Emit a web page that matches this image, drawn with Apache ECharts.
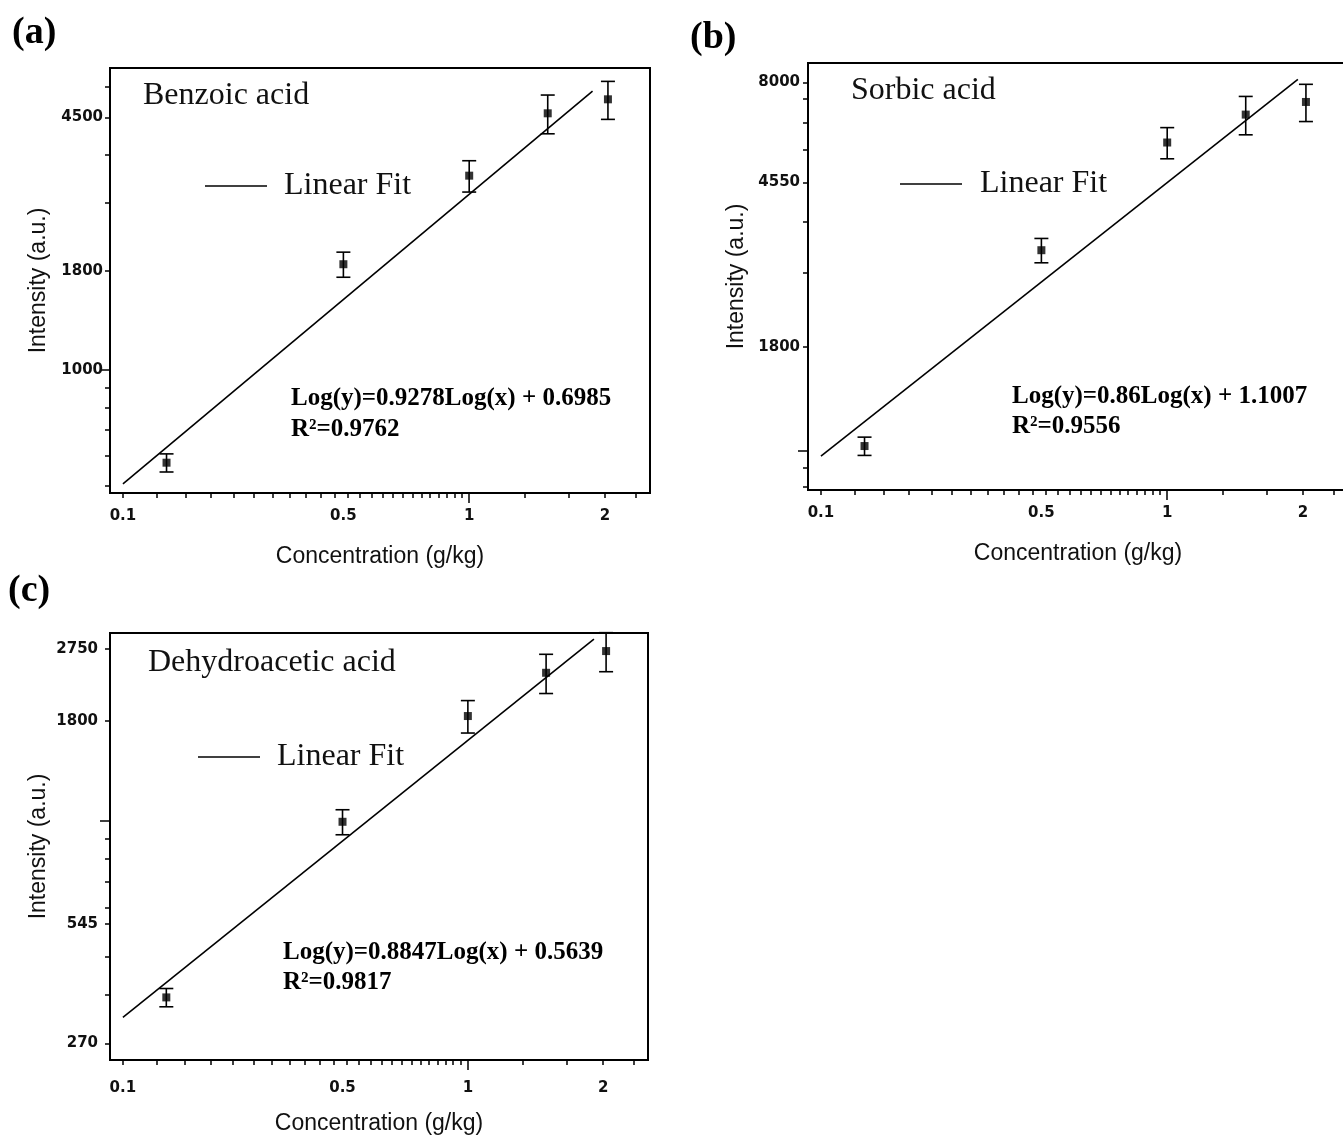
<!DOCTYPE html>
<html>
<head>
<meta charset="utf-8">
<title>Calibration curves</title>
<script src="https://cdn.jsdelivr.net/npm/echarts@6/dist/echarts.min.js"></script>
<style>
  html, body { margin: 0; padding: 0; background: #fff; }
  #chart { width: 1343px; height: 1135px; }
</style>
</head>
<body>
<div id="chart"></div>
<script>
// concentration (g/kg), same for the three acids
var CONC = [0.15, 0.5, 1, 1.5, 2.03];

// mean intensity (a.u.) and error bar half height
var BENZOIC = [575, 1876, 3180, 4611, 5012];
var BENZOIC_ERR = [31, 140, 296, 530, 565];
var SORBIC = [1029, 3106, 5702, 6675, 7168];
var SORBIC_ERR = [53, 213, 500, 720, 750];
var DHA = [354, 994, 1851, 2387, 2712];
var DHA_ERR = [19, 73, 176, 274, 310];

// end points of the fitted lines
var FIT_X_A = [0.1, 1.88], FIT_Y_A = [507, 5265];
var FIT_X_B = [0.1, 1.95], FIT_Y_B = [972, 8147];
var FIT_X_C = [0.1, 1.91], FIT_Y_C = [315, 2910];

// tick labels / tick marks
var X_LABELS = [0.1, 0.5, 1, 2];
var X_TICKS = [0.1, 0.1375, 0.175, 0.2125, 0.25, 0.2875, 0.325, 0.3625, 0.4, 0.4375,
  0.475, 0.5125, 0.55, 0.5875, 0.625, 0.6625, 0.7, 0.7375, 0.775, 0.8125, 0.85,
  0.8875, 0.925, 0.9625, 1, 1.333, 1.667, 2, 2.333];
var Y_LABELS_A = [1000, 1800, 4500];
var Y_TICKS_A = [500, 600, 700, 800, 900, 1000, 1800, 2700, 3600, 4500, 5400];
var Y_LABELS_B = [1800, 4550, 8000];
var Y_TICKS_B = [820, 910, 1000, 1800, 2730, 3640, 4550, 5460, 6370, 7280, 8000];
var Y_LABELS_C = [270, 545, 1800, 2750];
var Y_TICKS_C = [270, 360, 450, 545, 600, 700, 800, 900, 1000, 1800, 2750];

// the original x axis is log-like but squeezed below 0.5,
// a log axis on (x + X_SHIFT) reproduces that spacing
var X_SHIFT = 0.12;
var X_MIN = 0.087, X_MAX = 2.5;

var panels = [
  { tag: '(a)', title: 'Benzoic acid', y: BENZOIC, err: BENZOIC_ERR, fx: FIT_X_A, fy: FIT_Y_A,
    eq: 'Log(y)=0.9278Log(x) + 0.6985', r2: 'R\u00b2=0.9762',
    yLabels: Y_LABELS_A, yTicks: Y_TICKS_A, yMin: 480, yMax: 6040,
    grid: [110, 68, 540, 425], xMargin: 16, yMargin: 7,
    pos: { tag: [12, 33], title: [143, 96], legend: [205, 267, 186, 284], eq: [291, 399, 430] } },
  { tag: '(b)', title: 'Sorbic acid', y: SORBIC, err: SORBIC_ERR, fx: FIT_X_B, fy: FIT_Y_B,
    eq: 'Log(y)=0.86Log(x) + 1.1007', r2: 'R\u00b2=0.9556',
    yLabels: Y_LABELS_B, yTicks: Y_TICKS_B, yMin: 803, yMax: 8930,
    grid: [808, 63, 540, 427], xMargin: 16, yMargin: 8,
    pos: { tag: [690, 38], title: [851, 91], legend: [900, 962, 184, 980], eq: [1012, 397, 427] } },
  { tag: '(c)', title: 'Dehydroacetic acid', y: DHA, err: DHA_ERR, fx: FIT_X_C, fy: FIT_Y_C,
    eq: 'Log(y)=0.8847Log(x) + 0.5639', r2: 'R\u00b2=0.9817',
    yLabels: Y_LABELS_C, yTicks: Y_TICKS_C, yMin: 245, yMax: 3016,
    grid: [110, 633, 538, 427], xMargin: 21, yMargin: 12,
    pos: { tag: [8, 591], title: [148, 663], legend: [198, 260, 757, 277], eq: [283, 953, 983] } }
];

function sx(v) { return v + X_SHIFT; }

var tickFont = { fontFamily: 'DejaVu Sans', fontWeight: 'bold', fontSize: 15, color: '#111' };
var nameFont = { fontFamily: 'Liberation Sans', fontSize: 23, color: '#111' };
var black = { color: '#000', width: 1.5 };

var option = { animation: false, backgroundColor: '#fff', grid: [], xAxis: [], yAxis: [], series: [], graphic: [] };

panels.forEach(function (p, i) {
  option.grid.push({
    left: p.grid[0], top: p.grid[1], width: p.grid[2], height: p.grid[3],
    show: true, borderColor: '#000', borderWidth: 2, backgroundColor: '#fff',
    containLabel: false, outerBoundsMode: 'none'
  });

  var xBase = { type: 'log', logBase: 10, gridIndex: i, position: 'bottom',
    min: sx(X_MIN), max: sx(X_MAX), splitLine: { show: false } };
  option.xAxis.push(Object.assign({}, xBase, {
    name: 'Concentration (g/kg)', nameLocation: 'middle', nameGap: 52, nameTextStyle: nameFont,
    axisLine: { show: true, lineStyle: { color: '#000', width: 2 } },
    axisTick: { show: true, length: 5, customValues: X_TICKS.map(sx), lineStyle: black },
    axisLabel: Object.assign({ show: true, margin: p.xMargin, customValues: X_LABELS.map(sx),
      formatter: function (v) { return String(+(v - X_SHIFT).toFixed(2)); } }, tickFont)
  }));
  // longer tick at 1
  option.xAxis.push(Object.assign({}, xBase, {
    axisLine: { show: false },
    axisTick: { show: true, length: 10, customValues: [sx(1)], lineStyle: black },
    axisLabel: { show: false }
  }));

  var yBase = { type: 'log', logBase: 10, gridIndex: i, position: 'left',
    min: p.yMin, max: p.yMax, splitLine: { show: false } };
  option.yAxis.push(Object.assign({}, yBase, {
    name: 'Intensity (a.u.)', nameLocation: 'middle', nameGap: 60, nameRotate: 90, nameTextStyle: nameFont,
    axisLine: { show: true, lineStyle: { color: '#000', width: 2 } },
    axisTick: { show: true, length: 5, customValues: p.yTicks, lineStyle: black },
    axisLabel: Object.assign({ show: true, margin: p.yMargin, customValues: p.yLabels,
      formatter: function (v) { return String(Math.round(v)); } }, tickFont)
  }));
  option.yAxis.push(Object.assign({}, yBase, {
    axisLine: { show: false },
    axisTick: { show: true, length: 10, customValues: [1000], lineStyle: black },
    axisLabel: { show: false }
  }));

  var xi = i * 2, yi = i * 2;
  option.series.push({
    type: 'line', xAxisIndex: xi, yAxisIndex: yi, symbol: 'none', silent: true,
    lineStyle: { color: '#000', width: 1.6 },
    data: p.fx.map(function (x, k) { return [sx(x), p.fy[k]]; })
  });
  option.series.push({
    type: 'custom', xAxisIndex: xi, yAxisIndex: yi, clip: false, silent: true,
    data: CONC.map(function (x, k) { return [sx(x), p.y[k], p.err[k]]; }),
    renderItem: function (params, api) {
      var x = api.value(0), y = api.value(1), e = api.value(2);
      var hi = api.coord([x, y + e]), lo = api.coord([x, y - e]);
      var st = { stroke: '#000', lineWidth: 1.6 };
      return { type: 'group', children: [
        { type: 'line', shape: { x1: hi[0], y1: hi[1], x2: lo[0], y2: lo[1] }, style: st },
        { type: 'line', shape: { x1: hi[0] - 7, y1: hi[1], x2: hi[0] + 7, y2: hi[1] }, style: st },
        { type: 'line', shape: { x1: lo[0] - 7, y1: lo[1], x2: lo[0] + 7, y2: lo[1] }, style: st }
      ] };
    }
  });
  option.series.push({
    type: 'scatter', xAxisIndex: xi, yAxisIndex: yi, symbol: 'rect', symbolSize: 8, silent: true,
    itemStyle: { color: '#000' },
    data: CONC.map(function (x, k) { return [sx(x), p.y[k]]; })
  });

  var q = p.pos;
  option.graphic.push(
    { type: 'text', x: q.tag[0], y: q.tag[1], style: { text: p.tag, font: 'bold 38px "Liberation Serif"', fill: '#000', verticalAlign: 'middle', textVerticalAlign: 'middle' } },
    { type: 'text', x: q.title[0], y: q.title[1], style: { text: p.title, font: '32px "Liberation Serif"', fill: '#111', verticalAlign: 'middle', textVerticalAlign: 'middle' } },
    { type: 'line', shape: { x1: q.legend[0], y1: q.legend[2], x2: q.legend[1], y2: q.legend[2] }, style: { stroke: '#000', lineWidth: 1.6 } },
    { type: 'text', x: q.legend[3], y: q.legend[2], style: { text: 'Linear Fit', font: '32px "Liberation Serif"', fill: '#111', verticalAlign: 'middle', textVerticalAlign: 'middle' } },
    { type: 'text', x: q.eq[0], y: q.eq[1], style: { text: p.eq, font: 'bold 25px "Liberation Serif"', fill: '#000', verticalAlign: 'middle', textVerticalAlign: 'middle' } },
    { type: 'text', x: q.eq[0], y: q.eq[2], style: { text: p.r2, font: 'bold 25px "Liberation Serif"', fill: '#000', verticalAlign: 'middle', textVerticalAlign: 'middle' } }
  );
});

var chart = echarts.init(document.getElementById('chart'));
chart.setOption(option);
</script>
</body>
</html>
